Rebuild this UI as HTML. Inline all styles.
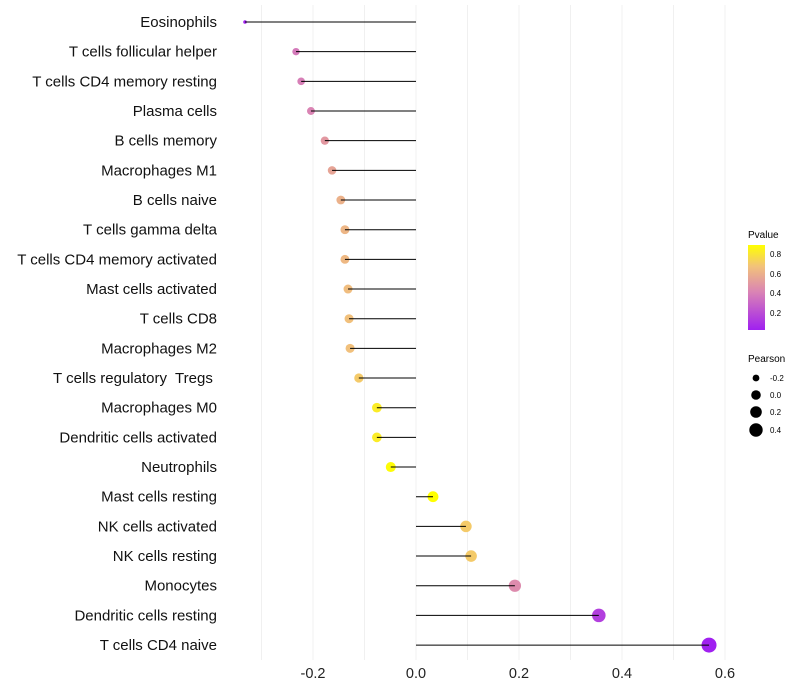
<!DOCTYPE html>
<html><head><meta charset="utf-8"><style>
body{margin:0;background:#fff;}
svg{display:block;font-family:"Liberation Sans",sans-serif;}
text{white-space:pre;}
</style></head><body>
<svg id="chart" width="800" height="700">
<defs><linearGradient id="pg" x1="0" y1="1" x2="0" y2="0">
<stop offset="0" stop-color="#a020f0"/><stop offset="0.45" stop-color="#da84b4"/><stop offset="0.75" stop-color="#f2c27a"/><stop offset="1" stop-color="#ffff00"/></linearGradient></defs>
<g id="grid"></g><g id="marks"></g><g id="labels"></g>
<g>
<text x="748" y="238" font-size="10">Pvalue</text>
<rect x="748" y="245" width="17" height="85" fill="url(#pg)"/>
<text x="770" y="257" font-size="8">0.8</text><text x="770" y="277" font-size="8">0.6</text>
<text x="770" y="296" font-size="8">0.4</text><text x="770" y="316" font-size="8">0.2</text>
</g>
<g>
<text x="748" y="362" font-size="10">Pearson</text>
<circle cx="756" cy="378" r="3.4"/><text x="770" y="381" font-size="8">-0.2</text>
<circle cx="756" cy="395" r="4.8"/><text x="770" y="398" font-size="8">0.0</text>
<circle cx="756" cy="412" r="5.8"/><text x="770" y="415" font-size="8">0.2</text>
<circle cx="756" cy="430" r="6.7"/><text x="770" y="433" font-size="8">0.4</text>
</g>
</svg>
<script>
const cells=["Eosinophils","T cells follicular helper","T cells CD4 memory resting","Plasma cells","B cells memory","Macrophages M1","B cells naive","T cells gamma delta","T cells CD4 memory activated","Mast cells activated","T cells CD8","Macrophages M2","T cells regulatory  Tregs ","Macrophages M0","Dendritic cells activated","Neutrophils","Mast cells resting","NK cells activated","NK cells resting","Monocytes","Dendritic cells resting","T cells CD4 naive"];
const pearson=[-0.332,-0.233,-0.223,-0.204,-0.177,-0.163,-0.146,-0.138,-0.138,-0.132,-0.130,-0.128,-0.111,-0.076,-0.076,-0.049,0.033,0.097,0.107,0.192,0.355,0.569];
const pvalue=[0.03,0.38,0.4,0.42,0.5,0.55,0.6,0.62,0.63,0.65,0.66,0.66,0.7,0.82,0.82,0.88,0.89,0.7,0.7,0.45,0.15,0.03];
const xTicks=[-0.2,0,0.2,0.4,0.6];
const xMinor=[-0.3,-0.1,0.1,0.3,0.5];
const X=v=>416+v*515;
const Y=i=>22+i*29.67;
const ns="http://www.w3.org/2000/svg";
function mk(t,a,p){const e=document.createElementNS(ns,t);for(const k in a)e.setAttribute(k,a[k]);p.appendChild(e);return e;}
function lerp(a,b,t){return a.map((x,i)=>Math.round(x+(b[i]-x)*t));}
const stops=[[0.03,[160,32,240]],[0.42,[218,132,180]],[0.67,[242,194,122]],[0.89,[255,255,0]]];
function col(p){if(p<=stops[0][0])return "rgb("+stops[0][1]+")";for(let i=0;i<stops.length-1;i++){if(p<=stops[i+1][0]){const t=(p-stops[i][0])/(stops[i+1][0]-stops[i][0]);return "rgb("+lerp(stops[i][1],stops[i+1][1],t)+")";}}return "rgb(255,255,0)";}
const pmin=Math.min(...pearson),pmax=Math.max(...pearson);
const R=v=>1.8+5.7*Math.sqrt((v-pmin)/(pmax-pmin));
const g=document.getElementById('grid'),m=document.getElementById('marks'),l=document.getElementById('labels');
xMinor.concat(xTicks).forEach(v=>{const e=mk('line',{x1:X(v),x2:X(v),y1:5,y2:660,stroke:'#f0f0f0','stroke-width':1},g);

});
xTicks.forEach(v=>{const t=mk('text',{x:X(v),y:678,'font-size':14.5,'text-anchor':'middle',fill:'#222'},l);t.textContent=v===0?"0.0":v.toFixed(1);

});
cells.forEach((c,i)=>{
const t=mk('text',{x:217,y:Y(i)+5,'font-size':15,'text-anchor':'end',fill:'#111'},l);t.textContent=c;


const pt=mk('circle',{cx:X(pearson[i]),cy:Y(i),r:R(pearson[i]),fill:col(pvalue[i])},m);


const ln=mk('line',{x1:X(0),x2:X(pearson[i]),y1:Y(i),y2:Y(i),stroke:'#000','stroke-width':1},m);


});
</script>
</body></html>
